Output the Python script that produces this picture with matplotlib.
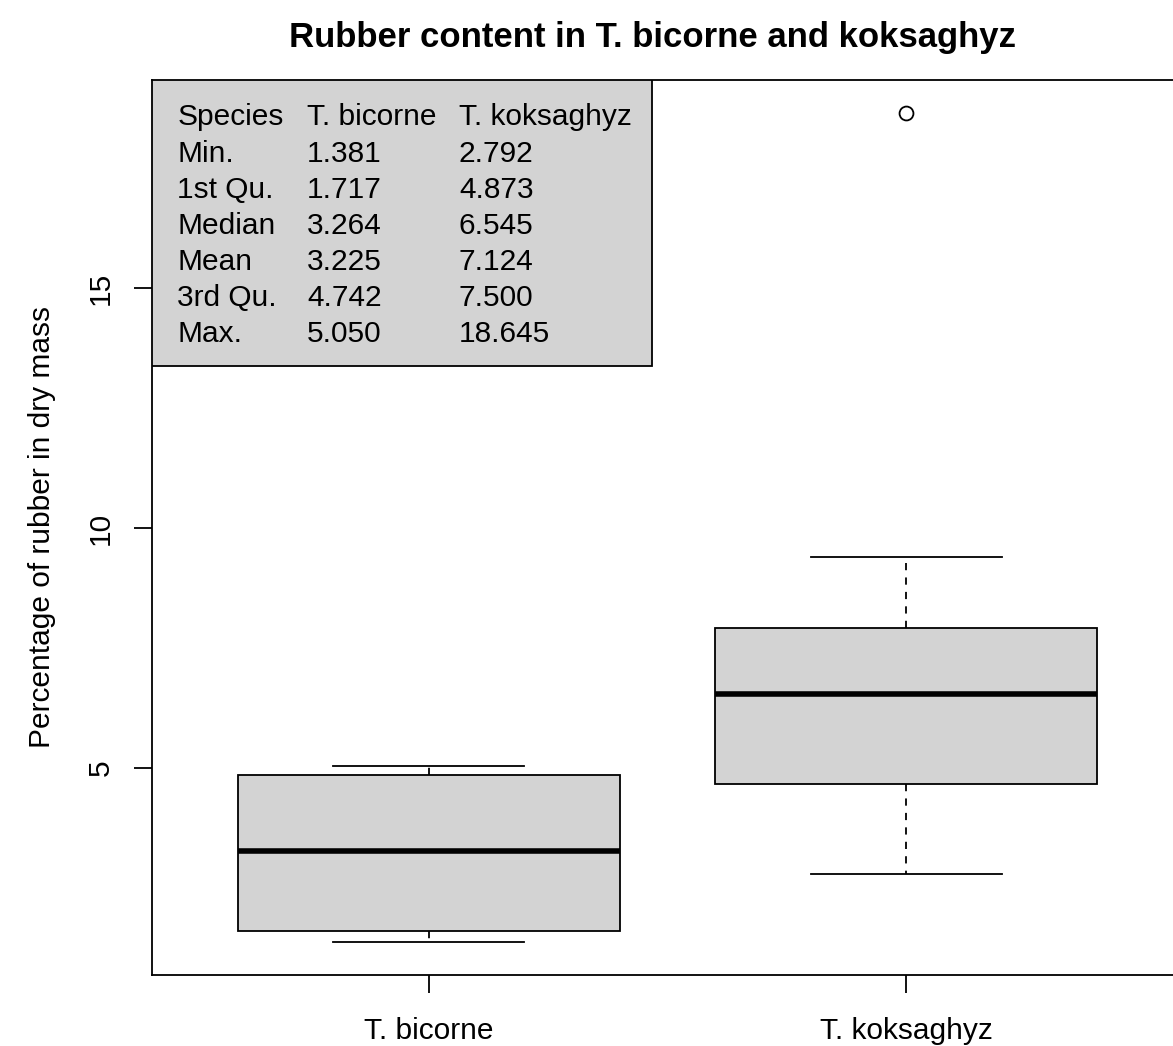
import matplotlib.pyplot as plt
from matplotlib.patches import Rectangle

plt.rcParams['font.family'] = ['Liberation Sans', 'DejaVu Sans']

species = ["T. bicorne", "T. koksaghyz"]
whis_lo = [1.381, 2.792]
q1 = [1.61, 4.67]
medians = [3.264, 6.545]
q3 = [4.86, 7.93]
whis_hi = [5.050, 9.40]
outliers = [[], [18.645]]

# summary() table shown in the corner
row_names = ["Species", "Min.", "1st Qu.", "Median", "Mean", "3rd Qu.", "Max."]
bicorne_col = ["T. bicorne", "1.381", "1.717", "3.264", "3.225", "4.742", "5.050"]
koks_col = ["T. koksaghyz", "2.792", "4.873", "6.545", "7.124", "7.500", "18.645"]

stats = []
for i in range(len(species)):
    stats.append(dict(label=species[i], whislo=whis_lo[i], q1=q1[i], med=medians[i],
                      q3=q3[i], whishi=whis_hi[i], fliers=outliers[i]))

fs = 21.5

fig = plt.figure(figsize=(11.73, 10.46), dpi=100)
ax = fig.add_axes([152/1173, 71/1046, 1031/1173, 895/1046])

ax.bxp(stats, positions=[1, 2], widths=0.8, patch_artist=True,
       boxprops=dict(facecolor="#d3d3d3", edgecolor="black", linewidth=1.3),
       medianprops=dict(color="black", linewidth=4, solid_capstyle="butt"),
       whiskerprops=dict(color="black", linewidth=1.3, linestyle=(0, (4, 4))),
       capprops=dict(color="black", linewidth=1.3),
       capwidths=0.4,
       flierprops=dict(marker="o", markerfacecolor="none", markeredgecolor="black",
                       markersize=10, markeredgewidth=1.3))

ax.set_xlim(0.42, 2.58)
ax.set_ylim(0.69, 19.34)
ax.set_yticks([5, 10, 15])
ax.set_yticklabels(["5", "10", "15"], rotation=90, va="center")
ax.set_xticks([1, 2])
ax.set_xticklabels(species)
ax.tick_params(length=13, width=1.3, labelsize=fs)
ax.tick_params(axis="x", pad=17)
ax.tick_params(axis="y", pad=14)
for sp in ax.spines.values():
    sp.set_linewidth(1.3)

ax.set_ylabel("Percentage of rubber in dry mass", fontsize=fs, labelpad=22)
ax.set_title("Rubber content in T. bicorne and koksaghyz", fontsize=25,
             fontweight="bold", pad=24, x=0.485)

# grey legend-style box with the summary statistics
ax.add_patch(Rectangle((0.42, 13.38), 1.467 - 0.42, 19.34 - 13.38,
                       facecolor="#d3d3d3", edgecolor="black", linewidth=1.3, zorder=3))
y0 = 18.56
for k in range(len(row_names)):
    y = y0 - k * 0.752
    ax.text(0.473, y, row_names[k], fontsize=fs, va="center", zorder=4)
    ax.text(0.745, y, bicorne_col[k], fontsize=fs, va="center", zorder=4)
    ax.text(1.063, y, koks_col[k], fontsize=fs, va="center", zorder=4)

fig.savefig("out.png", dpi=100)
